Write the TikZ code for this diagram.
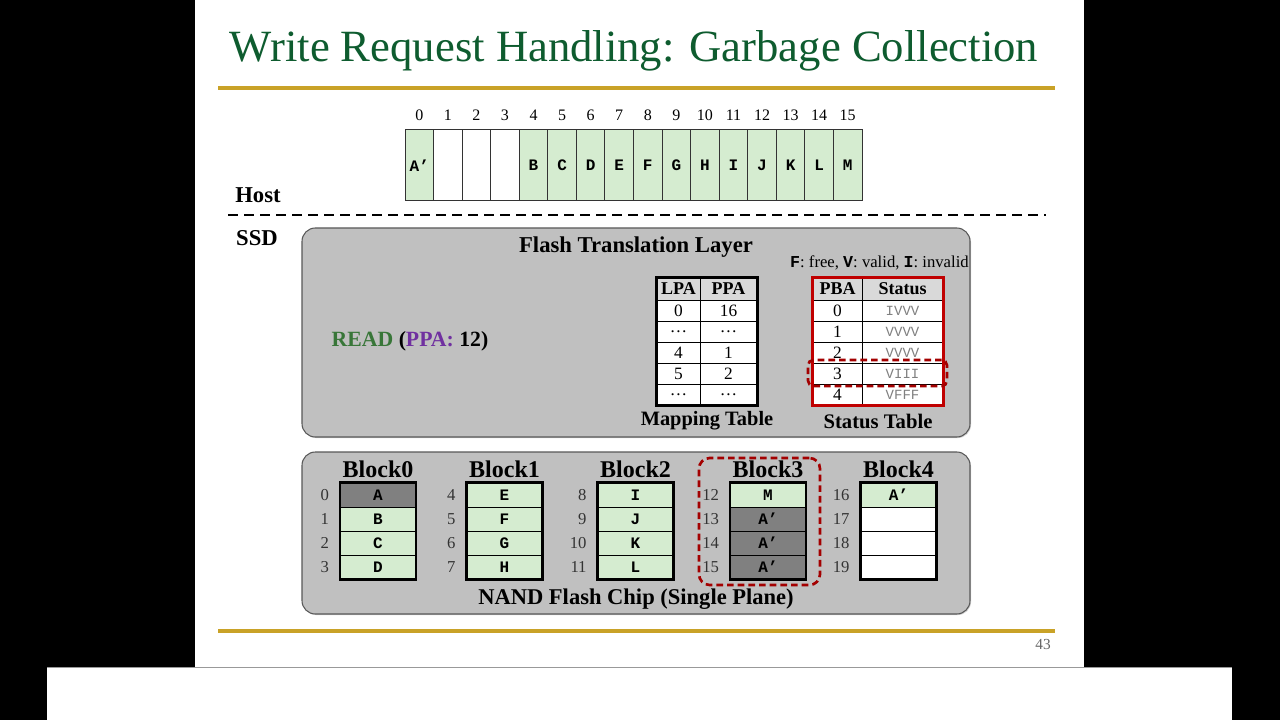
\documentclass[tikz,border=0pt]{standalone}
\usepackage{fontspec}
\setmainfont{Liberation Serif}
\setmonofont{Liberation Mono}
\usetikzlibrary{shadows}
\definecolor{ttlgreen}{HTML}{0E5C2F}
\definecolor{gold}{HTML}{C9A227}
\definecolor{cellgreen}{RGB}{213,236,208}
\definecolor{panelgray}{HTML}{C0C0C0}
\definecolor{hdrgray}{HTML}{D9D9D9}
\definecolor{darkcell}{HTML}{808080}
\definecolor{redc}{HTML}{C00000}
\definecolor{readgreen}{RGB}{56,118,56}
\definecolor{ppapurple}{HTML}{7030A0}
\definecolor{stgray}{HTML}{808080}
\newcommand\fsz[1]{\fontsize{#1}{#1}\selectfont}
\newcommand\ddd{\ldots}
\begin{document}
\begin{tikzpicture}[x=0.75pt,y=-0.75pt,
  goldline/.style={draw=gold,line width=2.4pt},
  panel/.style={draw=black!65,fill=panelgray,rounded corners=10pt,line width=0.8pt,
    drop shadow={shadow xshift=0.8pt,shadow yshift=-0.8pt,opacity=0.35}},
  hcell/.style={draw=black!80,line width=0.75pt,inner sep=0pt,minimum width=21.42pt,minimum height=53.25pt,font=\ttfamily\bfseries\fsz{12pt}},
  hnum/.style={font=\fsz{12pt},inner sep=0pt},
  tcell/.style={draw=black,line width=0.75pt,fill=white,inner sep=0pt,minimum height=15.75pt,font=\fsz{13pt}},
  thead/.style={tcell,fill=hdrgray,minimum height=16.5pt,font=\bfseries\fsz{13.5pt}},
  stcell/.style={tcell,font=\ttfamily\fsz{10.5pt},text=stgray},
  lbl/.style={font=\bfseries\fsz{14pt},inner sep=0pt},
  bcell/.style={draw=black,line width=0.75pt,inner sep=0pt,minimum width=56.25pt,minimum height=18pt,font=\ttfamily\bfseries\fsz{12pt}},
  bnum/.style={font=\fsz{12.5pt},text=black!80,inner sep=0pt,anchor=east},
  reddash/.style={draw=redc!85!black,line width=2pt,dash pattern=on 5pt off 3pt}
]
\useasboundingbox (0,0) rectangle (1280,720);
% background
\fill[black] (0,0) rectangle (1280,720);
\fill[white] (195,0) rectangle (1084,667);
\fill[white] (47,667) rectangle (1232,720);
\draw[black!40,line width=0.75pt] (47,667) -- (1232,667);

% title
\node[text=ttlgreen,font=\fsz{33.5pt},inner sep=0pt] (title) at (634,51) {Write Request Handling: Garbage Collection};
\coordinate (g1a) at (218,88); \coordinate (g1b) at (1055,88);
\draw[goldline] (g1a) -- (g1b);

% host array
\foreach \i/\t/\c in {0/A’/cellgreen,1//white,2//white,3//white,4/B/cellgreen,5/C/cellgreen,6/D/cellgreen,7/E/cellgreen,8/F/cellgreen,9/G/cellgreen,10/H/cellgreen,11/I/cellgreen,12/J/cellgreen,13/K/cellgreen,14/L/cellgreen,15/M/cellgreen}{
  \node[hcell,fill=\c] (h\i) at ({405+28.5625*\i+14.28},165.5) {\t};
  \node[hnum] (hn\i) at ({405+28.5625*\i+14.28},115) {\i};
}
\node[lbl,font=\bfseries\fsz{17pt}] (host) at (258,195) {Host};
\node[lbl,font=\bfseries\fsz{17pt}] (ssd) at (257,238) {SSD};
\coordinate (dl1) at (228,215); \coordinate (dl2) at (1046,215);
\draw[line width=2.2pt,dash pattern=on 7.5pt off 4.5pt] (dl1) -- (dl2);

% FTL panel
\node[panel,minimum width=501pt,minimum height=156.75pt,inner sep=0pt] (ftl) at (636,332.5) {};
\node[lbl,font=\bfseries\fsz{17pt}] (ftltitle) at (636,247) {Flash Translation Layer};
\node[lbl,font=\bfseries\fsz{16.3pt}] (read) at (410,341) {\textcolor{readgreen}{READ} (\textcolor{ppapurple}{PPA:} 12)};
\node[font=\fsz{12.5pt},inner sep=0pt,anchor=east] (legend) at (969,263) {{\ttfamily\bfseries F}: free, {\ttfamily\bfseries V}: valid, {\ttfamily\bfseries I}: invalid};

% mapping table
\node[thead,minimum width=32.25pt] (mapHL) at (678.5,289) {LPA};
\node[thead,minimum width=42.75pt] (mapHP) at (728.5,289) {PPA};
\foreach \r/\a/\b in {0/0/16,1/\ddd/\ddd,2/4/1,3/5/2,4/\ddd/\ddd}{
  \node[tcell,minimum width=32.25pt] (mapL\r) at (678.5,{310.5+21*\r}) {\a};
  \node[tcell,minimum width=42.75pt] (mapP\r) at (728.5,{310.5+21*\r}) {\b};
}
\draw[line width=2.2pt] (mapHL.north west) rectangle (mapP4.south east);
\node[lbl,font=\bfseries\fsz{15.3pt}] (maplbl) at (707,421) {Mapping Table};

% status table
\node[thead,minimum width=36.75pt] (stHB) at (837.5,289) {PBA};
\node[thead,minimum width=60.75pt] (stHS) at (902.5,289) {Status};
\foreach \r/\s in {0/IVVV,1/VVVV,2/VVVV,3/VIII,4/VFFF}{
  \node[tcell,minimum width=36.75pt] (stB\r) at (837.5,{310.5+21*\r}) {\r};
  \node[stcell,minimum width=60.75pt] (stS\r) at (902.5,{310.5+21*\r}) {\s};
}
\draw[redc,line width=2.2pt] (stHB.north west) rectangle (stS4.south east);
\node[lbl,font=\bfseries\fsz{15.5pt}] (stlbl) at (878,421) {Status Table};
\node[reddash,rounded corners=4pt,minimum width=104.25pt,minimum height=19.5pt,inner sep=0pt] (gcrow) at (877.5,373) {};

% NAND panel
\node[panel,minimum width=501pt,minimum height=121.5pt,inner sep=0pt] (nand) at (636,533) {};
\node[lbl,font=\bfseries\fsz{16.9pt}] (nandlbl) at (636,599) {NAND Flash Chip (Single Plane)};
\foreach \b/\x in {0/378,1/504.5,2/635.5,3/768,4/898.5}{
  \node[lbl,font=\bfseries\fsz{18pt}] (blk\b) at (\x,469) {Block\b};
}
\foreach \b/\r/\x/\t/\c in {0/0/378/A/darkcell,0/1/378/B/cellgreen,0/2/378/C/cellgreen,0/3/378/D/cellgreen,
  1/0/504.5/E/cellgreen,1/1/504.5/F/cellgreen,1/2/504.5/G/cellgreen,1/3/504.5/H/cellgreen,
  2/0/635.5/I/cellgreen,2/1/635.5/J/cellgreen,2/2/635.5/K/cellgreen,2/3/635.5/L/cellgreen,
  3/0/768/M/cellgreen,3/1/768/A’/darkcell,3/2/768/A’/darkcell,3/3/768/A’/darkcell,
  4/0/898.5/A’/cellgreen,4/1/898.5//white,4/2/898.5//white,4/3/898.5//white}{
  \pgfmathtruncatemacro\p{4*\b+\r}
  \node[bcell,fill=\c] (c\p) at (\x,{495+24*\r}) {\t};
  \node[bnum] (n\p) at ([xshift=-8pt]c\p.west) {\p};
}
\foreach \f/\l in {0/3,4/7,8/11,12/15,16/19}{
  \draw[line width=2pt] (c\f.north west) rectangle (c\l.south east);
}
\node[reddash,rounded corners=8pt,minimum width=90.75pt,minimum height=95.25pt,inner sep=0pt] (gcblk) at (759.5,521.5) {};

% footer
\coordinate (g2a) at (218,631); \coordinate (g2b) at (1055,631);
\draw[goldline] (g2a) -- (g2b);
\node[font=\fsz{11.5pt},text=black!60,inner sep=0pt] (pageno) at (1043,644) {43};
\end{tikzpicture}
\end{document}
